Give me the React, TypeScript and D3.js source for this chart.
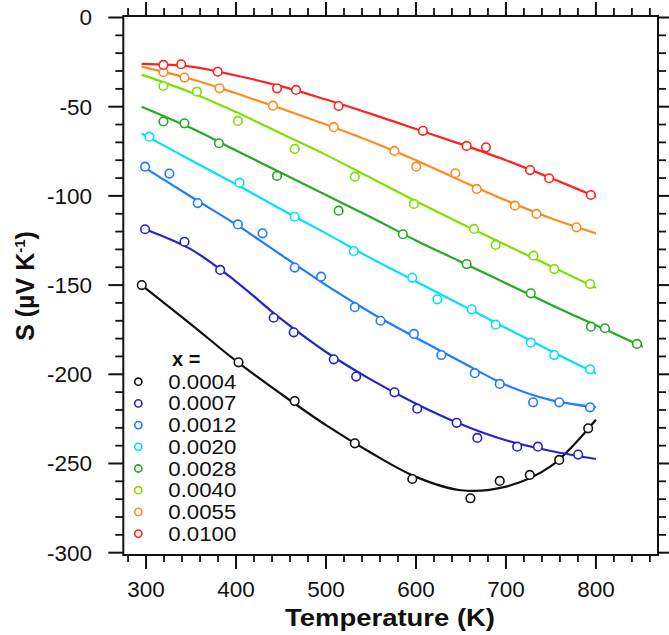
import React from 'react'
import * as d3 from 'd3'

// legend labels and colours
const labels = ['0.0004', '0.0007', '0.0012', '0.0020', '0.0028', '0.0040', '0.0055', '0.0100']
const colors = ['#111111', '#2424c8', '#1f7bff', '#00e1ff', '#22aa22', '#7ee000', '#ff8a1c', '#ff2222']

// measured points (T in K, S in µV/K)
const tempPts = [
  [295.2, 402.8, 465.2, 532, 595.9, 660.5, 693.1, 726.5, 759.2, 791.4],
  [298.9, 342.7, 382.4, 441.8, 464.1, 508.6, 533.5, 576.1, 601.4, 645.2, 668.2, 712.5, 735.5, 780.3],
  [298.9, 325.9, 357.4, 402.1, 429.5, 465.2, 494.5, 532, 560.6, 597.7, 628.2, 665.3, 693.1, 730.2, 759.2, 793.5],
  [303.7, 403.9, 465.2, 530.9, 595.9, 623.7, 661.9, 688.6, 727.6, 753.7, 793.5],
  [319.3, 342.7, 381, 445.5, 514, 585.4, 656.3, 727.6, 794.4, 810, 845.6],
  [319.3, 356.5, 402.1, 465.2, 532, 597.7, 664.5, 688.6, 730.6, 753.7, 793.5],
  [319.3, 342.7, 381.7, 441, 508.6, 576, 600.3, 643.7, 667.5, 710, 733.9, 778.4],
  [319.3, 339, 379.6, 445.5, 466.7, 514, 607.7, 656.3, 677.8, 726.8, 748, 794.4],
]
const seebeckPts = [
  [-150, -193.3, -215, -238.7, -258.7, -269.5, -259.8, -256.4, -248, -230.3],
  [-118.7, -125.7, -141.5, -168.3, -176.5, -191.6, -201.3, -210.1, -219.3, -227.2, -235.7, -240.6, -240.6, -245],
  [-83.6, -87.5, -104, -116, -121, -140.2, -145.3, -162.4, -170, -177.4, -189.2, -199.4, -205.4, -215.7, -215.7, -218.5],
  [-66.8, -92.6, -111.7, -130.9, -145.9, -158, -163.6, -172.2, -182.3, -189.2, -197.2],
  [-58.3, -59.3, -70.5, -88.8, -108.3, -121.5, -138.2, -154.6, -173.3, -174.2, -183],
  [-38.4, -41.6, -58, -73.7, -89.2, -104.5, -118.5, -127.5, -133.5, -141, -149.4],
  [-30.7, -33.7, -39.7, -49.4, -61.5, -74.8, -83.6, -87.3, -96.1, -105.5, -110.1, -117.6],
  [-26.6, -26.2, -30.4, -39.7, -40.6, -49.6, -63.5, -72, -72.8, -85.5, -90.1, -99.5],
]

// fitted curves
const fitTemps = [295, 350, 400, 450, 500, 550, 600, 650, 700, 750, 800]
const fitTempsLong = [295, 350, 400, 450, 500, 550, 600, 650, 700, 750, 800, 852]
const fitValues = [
  [-150, -172, -192.5, -211, -228.5, -244, -257.5, -265, -263, -251.5, -225.5],
  [-118, -130, -148, -169, -187.5, -203, -216.5, -228, -237, -243, -247.5],
  [-83, -100.5, -116, -133, -150, -165.5, -179.5, -193, -206, -214.5, -218.5],
  [-65, -80, -93.5, -107.5, -121, -135, -148, -161, -174, -187, -199.5],
  [-50, -62, -74.5, -87, -99.5, -112, -125, -137, -149, -161, -172.5, -184.5],
  [-32, -42, -53, -65, -77, -90, -103, -115.5, -127.5, -139.5, -151.5],
  [-27.5, -34.5, -42.5, -51, -60, -69.5, -80, -91.5, -102.5, -112.5, -121],
  [-26, -27.5, -32.5, -38.5, -46, -54, -62.5, -71, -80, -90, -100.5],
]

const xTicks = [300, 400, 500, 600, 700, 800]
const yTicks = [0, -50, -100, -150, -200, -250, -300]

const W = 669
const H = 635
const left = 123.3, right = 658, top = 16, bottom = 555

const font = 'Liberation Sans, Arial, Helvetica, sans-serif'

export default function App() {
  const x = d3.scaleLinear().domain([274.7, 869]).range([left, right])
  const y = d3.scaleLinear().domain([-301.3, 0.84]).range([bottom, top])

  const xMinor = d3.range(280, 861, 20).filter((t) => t % 100 !== 0)
  const yMinor = d3.range(-300, 1, 10).filter((v) => v % 50 !== 0)

  const line = d3
    .line<[number, number]>()
    .x((d) => x(d[0]))
    .y((d) => y(d[1]))
    .curve(d3.curveCatmullRom.alpha(0.5))

  return (
    <svg width={W} height={H} style={{ position: 'absolute', left: 0, top: 0, background: '#fff' }} fontFamily={font}>
      {/* fitted lines and data points */}
      {labels.map((lab, i) => {
        const ts = fitValues[i].length > fitTemps.length ? fitTempsLong : fitTemps
        const pts = ts.map((t, j) => [t, fitValues[i][j]] as [number, number])
        return (
          <g key={lab}>
            <path d={line(pts) || ''} fill="none" stroke={colors[i]} strokeWidth={2.2} />
            {tempPts[i].map((t, j) => (
              <circle key={j} cx={x(t)} cy={y(seebeckPts[i][j])} r={4.3} fill="#fff" stroke={colors[i]} strokeWidth={1.6} />
            ))}
          </g>
        )
      })}

      {/* frame */}
      <rect x={left} y={top} width={right - left} height={bottom - top} fill="none" stroke="#111" strokeWidth={2} />

      {/* x ticks, bottom and top */}
      {xTicks.map((t) => (
        <g key={t}>
          <line x1={x(t)} x2={x(t)} y1={bottom} y2={bottom + 14} stroke="#111" strokeWidth={2} />
          <line x1={x(t)} x2={x(t)} y1={top} y2={top - 14} stroke="#111" strokeWidth={2} />
          <text x={x(t)} y={597} textAnchor="middle" fontSize={22.5} fill="#111">{t}</text>
        </g>
      ))}
      {xMinor.map((t) => (
        <g key={t}>
          <line x1={x(t)} x2={x(t)} y1={bottom} y2={bottom + 7} stroke="#111" strokeWidth={1.8} />
          <line x1={x(t)} x2={x(t)} y1={top} y2={top - 8} stroke="#111" strokeWidth={1.8} />
        </g>
      ))}

      {/* y ticks, left and right */}
      {yTicks.map((v) => (
        <g key={v}>
          <line x1={left} x2={left - 15} y1={y(v)} y2={y(v)} stroke="#111" strokeWidth={2} />
          <line x1={right} x2={right + 14} y1={y(v)} y2={y(v)} stroke="#111" strokeWidth={2} />
          <text x={92} y={y(v) + 8} textAnchor="end" fontSize={22.5} fill="#111">{v}</text>
        </g>
      ))}
      {yMinor.map((v) => (
        <g key={v}>
          <line x1={left} x2={left - 8} y1={y(v)} y2={y(v)} stroke="#111" strokeWidth={1.8} />
          <line x1={right} x2={right + 8} y1={y(v)} y2={y(v)} stroke="#111" strokeWidth={1.8} />
        </g>
      ))}

      {/* axis titles */}
      <text x={390} y={626} textAnchor="middle" fontSize={24} fontWeight="bold" fill="#111" textLength={210} lengthAdjust="spacingAndGlyphs">
        Temperature (K)
      </text>
      <text transform="translate(33.5,286) rotate(-90)" textAnchor="middle" fontSize={25} fontWeight="bold" fill="#111">
        S (µV K<tspan dy={-9} fontSize={15}>-1</tspan><tspan dy={9}>)</tspan>
      </text>

      {/* legend */}
      <text x={172} y={366} fontSize={20} fontWeight="bold" fill="#111">x =</text>
      {labels.map((lab, i) => {
        const cy = 381.7 + i * 21.7
        return (
          <g key={lab}>
            <circle cx={138.3} cy={cy} r={3.6} fill="#fff" stroke={colors[i]} strokeWidth={1.6} />
            <text x={168.3} y={cy + 7} fontSize={20} fill="#111" textLength={68} lengthAdjust="spacingAndGlyphs">{lab}</text>
          </g>
        )
      })}
    </svg>
  )
}
